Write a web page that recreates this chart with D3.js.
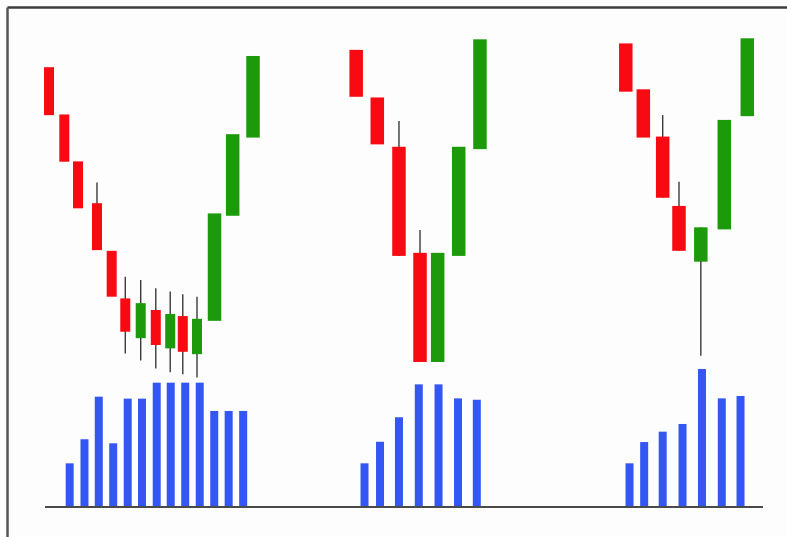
<!DOCTYPE html>
<html>
<head>
    <meta charset="utf-8">
    <title>Candlestick reversal patterns</title>
    <script src="https://cdn.jsdelivr.net/npm/d3@7"></script>
    <style>
        html, body { margin: 0; padding: 0; background: #fdfdfd; }
        svg { display: block; }
    </style>
</head>
<body>
<div id="chart"></div>
<script>
    // candle data: time position (0-100), open, high, low, close, pattern group
    var candleTime  = [0.56, 2.69, 4.60, 7.24, 9.29, 11.18, 13.33, 15.43, 17.44, 19.19, 21.17, 23.61, 26.14, 28.97,
                       43.34, 46.28, 49.30, 52.23, 54.69, 57.62, 60.58,
                       80.89, 83.33, 86.03, 88.30, 91.34, 94.61, 97.81];
    var candleOpen  = [92.0, 78.1, 64.3, 52.0, 38.0, 24.0, 12.3, 20.6, 9.3, 18.8, 7.6, 17.4, 48.3, 71.3,
                       97.1, 83.1, 68.6, 37.4, 5.3, 36.5, 67.9,
                       99.0, 85.5, 71.6, 51.2, 34.8, 44.3, 77.6];
    var candleHigh  = [92.0, 78.1, 64.3, 58.1, 38.0, 30.4, 29.4, 27.0, 26.0, 25.2, 24.5, 49.0, 72.3, 95.3,
                       97.1, 83.1, 76.2, 44.1, 37.4, 68.6, 100.2,
                       99.0, 85.5, 77.9, 58.3, 44.9, 76.5, 100.5];
    var candleLow   = [77.9, 64.2, 50.5, 38.2, 24.5, 7.8, 5.7, 3.4, 2.3, 1.7, 0.7, 17.4, 48.3, 71.3,
                       83.3, 69.3, 36.5, 5.3, 5.3, 36.5, 67.9,
                       84.8, 71.3, 53.6, 38.0, 7.1, 44.3, 77.6];
    var candleClose = [77.9, 64.2, 50.5, 38.2, 24.5, 14.2, 22.6, 10.3, 19.4, 8.3, 18.0, 49.0, 72.3, 95.3,
                       83.3, 69.3, 36.5, 5.3, 37.4, 68.6, 100.2,
                       84.8, 71.3, 53.6, 38.0, 44.9, 76.5, 100.5];
    var candleGroup = [1, 1, 1, 1, 1, 1, 1, 1, 1, 1, 1, 1, 1, 1,
                       2, 2, 2, 2, 2, 2, 2,
                       3, 3, 3, 3, 3, 3, 3];

    // volume data
    var volumeTime  = [3.44, 5.50, 7.49, 9.50, 11.52, 13.51, 15.56, 17.51, 19.53, 21.55, 23.57, 25.58, 27.60,
                       44.50, 46.66, 49.30, 52.06, 54.81, 57.52, 60.14,
                       81.41, 83.45, 86.03, 88.79, 91.50, 94.26, 96.87];
    var volumeValue = [31.2, 48.4, 78.8, 45.5, 77.4, 77.4, 88.8, 88.8, 88.8, 88.8, 68.6, 68.6, 68.6,
                       31.2, 46.6, 64.1, 87.6, 87.6, 77.6, 76.6,
                       31.2, 46.4, 53.8, 59.3, 98.6, 77.6, 79.3];

    var width = 787, height = 537;

    var svg = d3.select("#chart").append("svg")
        .attr("width", width)
        .attr("height", height);

    // scales
    var x = d3.scaleLinear().domain([0, 100]).range([45, 763]);
    var yPrice = d3.scaleLinear().domain([0, 100]).range([380, 40]);
    var yVol = d3.scaleLinear().domain([0, 100]).range([507, 367]);

    var candles = candleTime.map(function(t, i) {
        return {t: t, o: candleOpen[i], h: candleHigh[i], l: candleLow[i], c: candleClose[i], g: candleGroup[i], i: i};
    });
    var volumes = volumeTime.map(function(t, i) { return {t: t, v: volumeValue[i]}; });

    // narrow bodies for the small candles of the first pattern
    function bodyWidth(d) {
        return (d.g == 1 && d.i < 11) ? 10 : 13.5;
    }

    // frame (top and left edges only)
    svg.append("line")
        .attr("x1", 7.5).attr("x2", width)
        .attr("y1", 7.5).attr("y2", 7.5)
        .attr("stroke", "#3c3c3c").attr("stroke-width", 2.5);
    svg.append("line")
        .attr("x1", 7.5).attr("x2", 7.5)
        .attr("y1", 7.5).attr("y2", height)
        .attr("stroke", "#555").attr("stroke-width", 2.5);

    // wicks
    svg.append("g").selectAll("line")
        .data(candles.filter(function(d) { return d.h > Math.max(d.o, d.c) || d.l < Math.min(d.o, d.c); }))
        .enter().append("line")
        .attr("x1", function(d) { return x(d.t); })
        .attr("x2", function(d) { return x(d.t); })
        .attr("y1", function(d) { return yPrice(d.h); })
        .attr("y2", function(d) { return yPrice(d.l); })
        .attr("stroke", "#3a3a3a")
        .attr("stroke-width", 1.4);

    // bodies
    svg.append("g").selectAll("rect")
        .data(candles)
        .enter().append("rect")
        .attr("x", function(d) { return x(d.t) - bodyWidth(d) / 2; })
        .attr("width", bodyWidth)
        .attr("y", function(d) { return yPrice(Math.max(d.o, d.c)); })
        .attr("height", function(d) { return yPrice(Math.min(d.o, d.c)) - yPrice(Math.max(d.o, d.c)); })
        .attr("fill", function(d) { return d.c >= d.o ? "#1c9a0c" : "#f70a12"; });

    // volume bars
    svg.append("g").selectAll("rect")
        .data(volumes)
        .enter().append("rect")
        .attr("x", function(d) { return x(d.t) - 4; })
        .attr("width", 8)
        .attr("y", function(d) { return yVol(d.v); })
        .attr("height", function(d) { return yVol(0) - yVol(d.v); })
        .attr("fill", "#3457f4");

    // baseline
    svg.append("line")
        .attr("x1", x(0)).attr("x2", x(100))
        .attr("y1", yVol(0)).attr("y2", yVol(0))
        .attr("stroke", "#4a4a4a").attr("stroke-width", 2);
</script>
</body>
</html>
